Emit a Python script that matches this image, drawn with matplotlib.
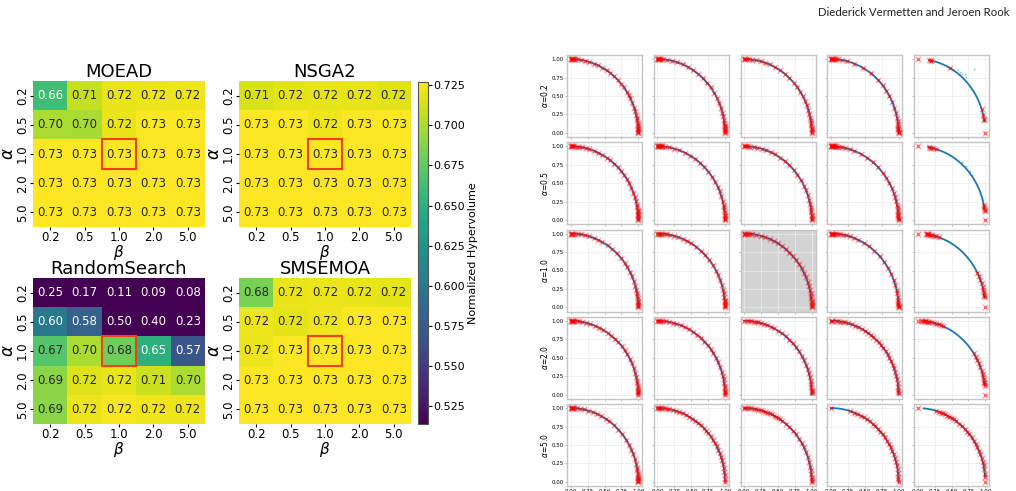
import numpy as np
import matplotlib
matplotlib.use("Agg")
import matplotlib.pyplot as plt
from matplotlib.patches import Rectangle
import seaborn as sns

# ---------------- heatmap data ----------------
params = ["0.2", "0.5", "1.0", "2.0", "5.0"]
algos = ["MOEAD", "NSGA2", "RandomSearch", "SMSEMOA"]

hv_moead = [[0.662, 0.708, 0.720, 0.721, 0.722],
            [0.700, 0.699, 0.720, 0.726, 0.726],
            [0.727, 0.727, 0.727, 0.727, 0.727],
            [0.727, 0.727, 0.727, 0.727, 0.727],
            [0.727, 0.727, 0.727, 0.727, 0.727]]
hv_nsga2 = [[0.714, 0.718, 0.719, 0.719, 0.717],
            [0.726, 0.726, 0.722, 0.726, 0.726],
            [0.727, 0.727, 0.727, 0.727, 0.727],
            [0.727, 0.727, 0.727, 0.727, 0.727],
            [0.727, 0.727, 0.727, 0.727, 0.727]]
hv_random = [[0.25, 0.17, 0.11, 0.09, 0.08],
             [0.60, 0.58, 0.50, 0.40, 0.23],
             [0.67, 0.70, 0.68, 0.65, 0.57],
             [0.69, 0.716, 0.719, 0.71, 0.70],
             [0.69, 0.721, 0.725, 0.722, 0.721]]
hv_smsemoa = [[0.683, 0.720, 0.721, 0.720, 0.718],
              [0.722, 0.718, 0.722, 0.726, 0.726],
              [0.721, 0.726, 0.726, 0.727, 0.727],
              [0.727, 0.727, 0.727, 0.727, 0.727],
              [0.727, 0.727, 0.727, 0.727, 0.727]]
hv_all = [hv_moead, hv_nsga2, hv_random, hv_smsemoa]
vmin, vmax = 0.514, 0.727

# ---------------- front / archive data (angles in degrees) ----------------
front_deg = [0, 2, 4, 6, 8, 10, 13, 16, 19, 22, 25, 28, 31, 34, 37, 40, 43, 46, 49,
             52, 55, 58, 61, 64, 67, 70, 73, 76, 79, 82, 84, 86, 88, 90]

# visible range of the blue front per panel (min angle, max angle)
blue_span = [[(0, 90)] * 4 + [(9, 80)],
             [(0, 90)] * 4 + [(9, 81)],
             [(0, 90)] * 4 + [(8, 82)],
             [(0, 90)] * 4 + [(7.5, 85)],
             [(0, 90)] * 4 + [(4, 85)]]

# dominated blue points (x, y) in the last column
blue_extra = {(0, 4): [(0.60, 0.85), (0.65, 0.80), (0.70, 0.80), (0.72, 0.76),
                       (0.77, 0.62), (0.83, 0.86), (0.62, 0.82)],
              (1, 4): [(0.65, 0.79), (0.72, 0.73), (0.77, 0.66), (0.80, 0.61)]}

red_deg = [
    [[90, 89.6, 89.2, 88.8, 88.4, 88, 87.5, 86, 84, 81, 78, 74, 70, 66, 62, 58, 54, 50, 46, 42,
      38, 34, 31, 28, 24, 20, 17, 14, 12, 10, 8, 6, 5, 4, 3, 2, 1, 0.5, 0],
     [90, 89.7, 89.3, 89, 88.6, 88, 87, 85, 82, 78, 73, 68, 63, 58, 53, 48, 43, 38, 33, 28, 24,
      20, 16, 13, 10, 8, 6, 5, 4, 3, 2, 1.5, 1, 0],
     [90, 89.5, 89, 88, 86, 83, 80, 76, 72, 68, 63, 58, 53, 48, 43, 38, 34, 30, 26, 22, 18, 15,
      12, 10, 8, 6, 4, 3, 2, 1, 0],
     [90, 89.6, 89.2, 88.8, 88.4, 88, 87.5, 87, 86, 84, 81, 76, 70, 62, 54, 46, 40, 35, 30, 25,
      20, 16, 12, 9, 7, 5, 4, 3, 2, 1, 0.5, 0],
     [90, 80, 79, 78.5, 61, 19, 14, 11, 10, 0]],
    [[90, 89.5, 89, 88.5, 88, 87, 85, 83, 80, 77, 74, 70, 66, 62, 58, 54, 50, 46, 42, 38, 34,
      30, 26, 22, 18, 15, 12, 10, 8, 7, 6, 5, 4, 3, 2, 1, 0],
     [90, 89.6, 89.2, 88.8, 88.4, 88, 87.5, 87, 86.5, 86, 84, 80, 76, 71, 66, 61, 56, 51, 46,
      41, 36, 31, 27, 23, 19, 15, 12, 10, 8, 6, 4, 3, 2, 1, 0],
     [90, 89.5, 89, 88, 87, 85, 82, 79, 75, 71, 67, 63, 58, 53, 48, 43, 38, 33, 28, 24, 20, 16,
      13, 10, 8, 6, 4, 3, 2, 1, 0],
     [90, 89.7, 89.4, 89.1, 88.8, 88.5, 88.2, 87.8, 87.4, 87, 86, 84.5, 83, 81, 78, 74, 70, 64,
      58, 52, 46, 40, 35, 30, 26, 22, 18, 15, 12, 10, 8, 6, 5, 4, 3, 2, 1, 0],
     [90, 80, 79.5, 79, 77, 74, 12, 10, 9, 8, 7.5, 0]],
    [[90, 89.5, 89, 88.5, 88, 86, 84, 81, 78, 74, 70, 66, 62, 57, 52, 47, 42, 37, 33, 29, 25,
      21, 17, 14, 11, 9, 7, 5, 4, 3, 2, 1, 0],
     [90, 89.5, 89, 88, 87, 86, 84, 82, 79, 76, 72, 68, 64, 60, 55, 50, 45, 40, 35, 30, 26, 22,
      18, 14, 11, 8, 6, 5, 4, 3, 2, 1, 0],
     [90, 89.5, 89, 88, 87, 85, 83, 80, 76, 72, 68, 64, 60, 56, 52, 48, 44, 40, 36, 32, 28, 24,
      20, 17, 14, 11, 9, 7, 5, 4, 3, 2, 1, 0],
     [90, 89.6, 89.2, 88.8, 88.4, 88, 87, 86, 84, 82, 80, 77, 74, 70, 66, 61, 56, 50, 44, 38,
      32, 27, 22, 18, 14, 11, 8, 6, 4, 3, 2, 1, 0.5, 0],
     [90, 83, 82.5, 82, 81.5, 81, 80, 79, 78, 76, 74, 72, 28, 25, 22, 19, 16, 14, 12, 10, 9, 8, 0]],
    [[90, 89.6, 89.2, 88.8, 88.4, 88, 87, 85, 83, 80, 77, 73, 69, 65, 61, 57, 53, 49, 45, 41,
      37, 33, 29, 25, 21, 17, 14, 11, 9, 7, 5, 4, 3, 2, 1, 0],
     [90, 89.5, 89, 88, 87, 85, 83, 80, 77, 74, 70, 66, 62, 58, 54, 50, 46, 42, 38, 34, 30, 26,
      22, 18, 15, 12, 9, 7, 5, 3, 2, 1, 0],
     [90, 88, 86, 84, 82, 80, 78, 76, 73, 70, 67, 64, 60, 56, 52, 48, 44, 40, 36, 32, 28, 24,
      20, 17, 14, 11, 8, 6, 4, 3, 2, 1],
     [90, 89.5, 89, 86, 84, 82, 80, 78, 75, 72, 69, 66, 63, 60, 57, 54, 51, 48, 45, 42, 39, 36,
      33, 30, 27, 24, 21, 18, 15, 12, 9, 6, 4, 2, 1],
     [90, 87, 86, 85, 84, 83, 82, 81, 80, 78, 76, 74, 72, 70, 68, 34, 31, 28, 25, 22, 19, 16,
      14, 12, 10, 9, 8, 7, 0]],
    [[90, 89.6, 89.2, 88.8, 88.4, 88, 87, 85, 82, 79, 75, 71, 67, 63, 59, 55, 50, 45, 40, 35,
      30, 26, 22, 18, 14, 11, 9, 7, 5, 4, 3, 2, 1.5, 1, 0.5, 0],
     [90, 89.5, 89, 88, 87, 86, 84, 82, 80, 77, 74, 71, 68, 65, 62, 59, 56, 53, 50, 47, 44, 41,
      38, 35, 32, 29, 26, 23, 20, 17, 14, 11, 8, 5, 2, 0],
     [90, 89, 88, 86, 84, 82, 80, 78, 76, 74, 72, 70, 68, 66, 64, 62, 60, 58, 56, 52, 48, 44,
      40, 36, 32, 28, 24, 20, 16, 12, 9, 6, 4, 2, 1, 0],
     [90, 74, 70, 67, 64, 61, 58, 55, 52, 49, 46, 43, 40, 37, 34, 31, 28, 25, 22, 19, 16, 13,
      10, 7, 4, 2, 0],
     [90, 74, 72, 70, 68, 66, 64, 62, 60, 58, 55, 52, 49, 46, 43, 40, 37, 34, 31, 28, 25, 22,
      19, 16, 13, 10, 6, 4, 0]],
]
alpha_labels = ["0.2", "0.5", "1.0", "2.0", "5.0"]

W, H = 1016, 491
fig = plt.figure(figsize=(W / 100, H / 100), dpi=100)


def box(left, top, width, height):
    return [left / W, 1 - (top + height) / H, width / W, height / H]


# ---------------- left: heatmaps ----------------
hm_pos = [(33, 81), (239, 81), (33, 278), (239, 278)]
for k, name in enumerate(algos):
    ax = fig.add_axes(box(hm_pos[k][0], hm_pos[k][1], 172, 146))
    sns.heatmap(np.array(hv_all[k]), ax=ax, cmap="viridis", vmin=vmin, vmax=vmax,
                annot=True, fmt=".2f", annot_kws={"size": 8.5}, cbar=False,
                xticklabels=params, yticklabels=params)
    ax.add_patch(Rectangle((2, 2), 1, 1, fill=False, edgecolor="#f0401a", lw=1.5))
    ax.set_title(name, fontsize=13, pad=1 if k < 2 else -2)
    ax.set_xlabel(r"$\beta$", fontsize=11, labelpad=-0.5)
    ax.set_ylabel(r"$\alpha$", fontsize=12, labelpad=-1)
    ax.tick_params(axis="both", labelsize=8.5, length=2, pad=1)
    plt.setp(ax.get_yticklabels(), rotation=90, va="center")
    plt.setp(ax.get_xticklabels(), rotation=0)

cax = fig.add_axes(box(418, 82, 10, 342))
sm = plt.cm.ScalarMappable(cmap="viridis", norm=plt.Normalize(vmin, vmax))
cb = fig.colorbar(sm, cax=cax)
cb.set_ticks([0.525, 0.55, 0.575, 0.6, 0.625, 0.65, 0.675, 0.7, 0.725])
cb.ax.tick_params(labelsize=8, length=3, pad=1)
cb.set_label("Normalized Hypervolume", fontsize=8, labelpad=2)
cb.outline.set_edgecolor("#555555")

# ---------------- right: 5x5 grid of fronts ----------------
for i in range(5):
    for j in range(5):
        ax = fig.add_axes(box(567 + j * 86.75, 55 + i * 87.25, 75, 82))
        lo, hi = blue_span[i][j]
        fd = np.radians([d for d in [lo] + front_deg + [hi] if lo <= d <= hi])
        fd = np.sort(fd)
        ax.plot(np.cos(fd), np.sin(fd), color="#1f77b4", lw=1.3, zorder=2)
        if (i, j) in blue_extra:
            bx, by = zip(*blue_extra[(i, j)])
            ax.scatter(bx, by, s=1.5, color="#1f77b4", alpha=0.5, lw=0, zorder=2)
        rd = np.radians(red_deg[i][j])
        ax.scatter(np.cos(rd), np.sin(rd), marker="x", s=16, color="red",
                   alpha=0.3, lw=1.0, zorder=3)
        ax.scatter(np.cos(rd), np.sin(rd), marker="x", s=5, color="red",
                   alpha=0.6, lw=0.6, zorder=4)
        ax.set_xlim(-0.055, 1.055)
        ax.set_ylim(-0.055, 1.055)
        ticks = [0, 0.25, 0.5, 0.75, 1.0]
        ax.set_xticks(ticks)
        ax.set_yticks(ticks)
        ax.grid(color="#ececec", lw=0.5)
        ax.set_axisbelow(True)
        for s in ax.spines.values():
            s.set_color("#c4c4c4")
            s.set_linewidth(1)
        ax.tick_params(labelsize=4, length=1.5, width=0.4, pad=1, color="#888888")
        if i == 2 and j == 2:
            ax.set_facecolor("#d3d3d3")
        if j == 0:
            ax.set_ylabel(r"$\alpha$=" + alpha_labels[i], fontsize=5.5, labelpad=1)
            ax.set_yticklabels(["0.00", "0.25", "0.50", "0.75", "1.00"])
        else:
            ax.set_yticklabels([])
        if i == 4:
            ax.set_xticklabels(["0.00", "0.25", "0.50", "0.75", "1.00"])
        else:
            ax.set_xticklabels([])

fig.text(1009 / W, 1 - 13 / H, "Diederick Vermetten and Jeroen Rook", ha="right",
         va="center", fontsize=8.2, family="Lato", color="#222222")

fig.savefig("out.png", dpi=100)
